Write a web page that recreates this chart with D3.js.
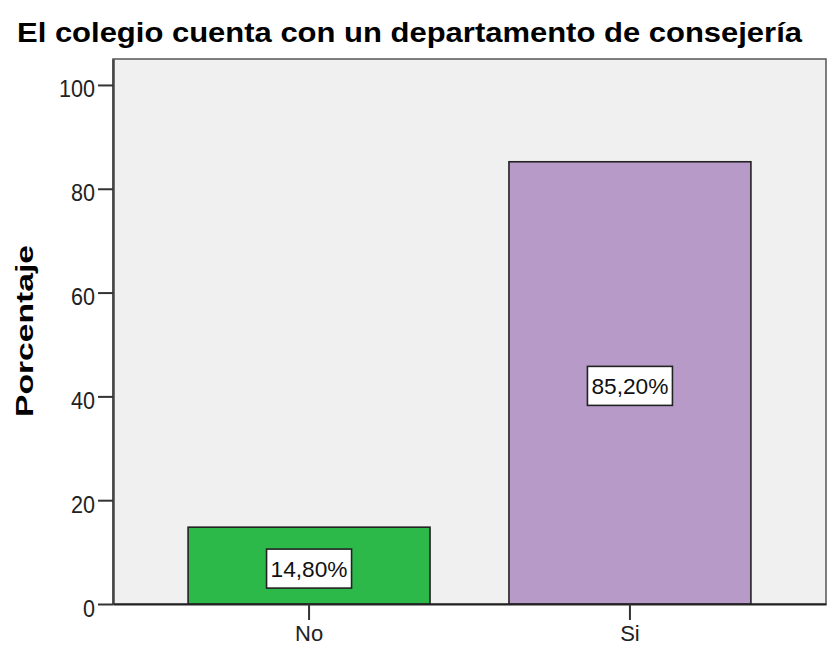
<!DOCTYPE html>
<html>
<head>
<meta charset="utf-8">
<script src="https://cdn.jsdelivr.net/npm/d3@7"></script>
<style>
  body { margin: 0; background: #fff; }
  text { font-family: "Liberation Sans", Arial, sans-serif; }
</style>
</head>
<body>
<div id="root"></div>
<script>
const width = 827;
const height = 646;
const margin = { top: 59, right: 1, bottom: 42, left: 113 };

const categories = ["No", "Si"];
const percents = [14.8, 85.2];
const labels = ["14,80%", "85,20%"];
const yTicks = [0, 20, 40, 60, 80, 100];
const colors = ["#2db84a", "#b89ac9"];

const innerW = width - margin.left - margin.right;
const innerH = height - margin.top - margin.bottom;

const x = d3.scaleBand()
    .domain(categories)
    .range([0, innerW])
    .paddingInner(0.246)
    .paddingOuter(0.234);

const y = d3.scaleLinear()
    .domain([0, 105])
    .range([innerH, 0]);

const svg = d3.select("#root")
    .append("svg")
        .attr("width", width)
        .attr("height", height);

svg.append("text")
    .attr("x", 17)
    .attr("y", 42)
    .attr("font-size", "28px")
    .attr("font-weight", "bold")
    .attr("textLength", 785)
    .attr("lengthAdjust", "spacingAndGlyphs")
    .text("El colegio cuenta con un departamento de consejería");

const g = svg.append("g")
    .attr("transform", `translate(${margin.left},${margin.top})`);

// plot background
g.append("rect")
    .attr("width", innerW)
    .attr("height", innerH)
    .attr("fill", "#f0f0f0")
    .attr("stroke", "#555")
    .attr("stroke-width", 1.5);

const data = categories.map((c, i) => ({ cat: c, value: percents[i], label: labels[i], color: colors[i] }));

g.selectAll("rect.bar")
    .data(data)
    .enter().append("rect")
        .attr("class", "bar")
        .attr("x", d => x(d.cat))
        .attr("y", d => y(d.value))
        .attr("width", x.bandwidth())
        .attr("height", d => y(0) - y(d.value))
        .attr("fill", d => d.color)
        .attr("stroke", "#222")
        .attr("stroke-width", 1.6);

const boxW = 85, boxH = 39;
const lab = g.selectAll("g.lab")
    .data(data)
    .enter().append("g")
        .attr("class", "lab")
        .attr("transform", d => `translate(${x(d.cat) + x.bandwidth() / 2},${y(d.value / 2) + 3})`);

lab.append("rect")
    .attr("x", -boxW / 2)
    .attr("y", -boxH / 2)
    .attr("width", boxW)
    .attr("height", boxH)
    .attr("fill", "#fff")
    .attr("stroke", "#222")
    .attr("stroke-width", 1.6);

lab.append("text")
    .attr("text-anchor", "middle")
    .attr("dy", "0.36em")
    .attr("font-size", "22px")
    .attr("fill", "#111")
    .attr("textLength", 77)
    .attr("lengthAdjust", "spacingAndGlyphs")
    .text(d => d.label);

// y axis
const yAxis = g.append("g")
    .call(d3.axisLeft(y).tickValues(yTicks).tickSize(15).tickSizeOuter(0).tickPadding(3));
yAxis.select(".domain").attr("stroke", "#444").attr("stroke-width", 2.5);
yAxis.selectAll(".tick line").attr("stroke", "#333").attr("stroke-width", 2);
yAxis.selectAll(".tick text")
    .attr("font-size", "24px")
    .attr("fill", "#222")
    .attr("dy", "0.5em")
    .attr("textLength", d => String(d).length * 12)
    .attr("lengthAdjust", "spacingAndGlyphs");

// x axis
const xAxis = g.append("g")
    .attr("transform", `translate(0,${innerH})`)
    .call(d3.axisBottom(x).tickSize(16).tickSizeOuter(0).tickPadding(5));
xAxis.select(".domain").attr("stroke", "#222").attr("stroke-width", 2);
xAxis.selectAll(".tick line").attr("stroke", "#333").attr("stroke-width", 2);
xAxis.selectAll(".tick text")
    .attr("font-size", "22px")
    .attr("fill", "#222");

svg.append("text")
    .attr("transform", "translate(33,331) rotate(-90)")
    .attr("text-anchor", "middle")
    .attr("font-size", "23px")
    .attr("font-weight", "bold")
    .attr("textLength", 172)
    .attr("lengthAdjust", "spacingAndGlyphs")
    .text("Porcentaje");
</script>
</body>
</html>
